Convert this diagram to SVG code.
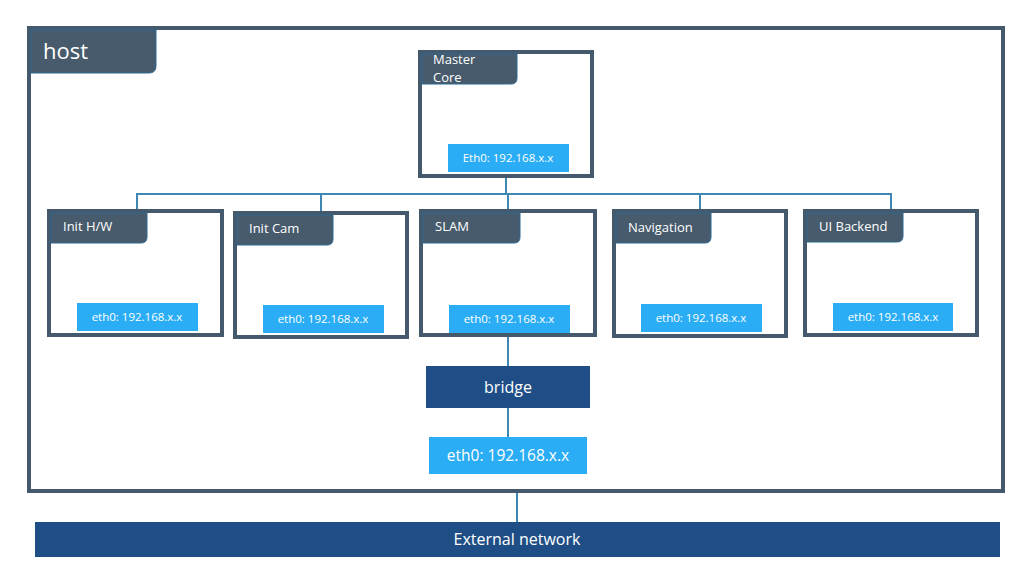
<svg xmlns="http://www.w3.org/2000/svg" width="1027" height="563" viewBox="0 0 1027 563">
<style>
.frame{fill:#fff;stroke:#44596b;stroke-width:4}
.tab{fill:#475b6c;stroke:#2e6a93;stroke-width:1}
.eth{fill:#2aadf5}
.dark{fill:#1f4e86}
.t{font-family:"Open Sans","Liberation Sans",sans-serif;fill:#fff}
.lbl{font-size:13px}
.ip{font-size:11.5px;text-anchor:middle}
.conn{fill:none;stroke:#3f88b6;stroke-width:2}
</style>
<rect width="1027" height="563" fill="#fff"/>
<g id="host">
<rect class="frame" x="29" y="28" width="974" height="463"/>
<path class="tab" d="M31 30H156V66Q156 73 149 73H31Z"/>
<text class="t" x="43" y="59" font-size="22">host</text>
</g>
<g id="connectors">
<path class="conn" d="M506 178V194"/>
<path class="conn" d="M137 209V194H891V209"/>
<path class="conn" d="M321 194V211"/>
<path class="conn" d="M508 194V209"/>
<path class="conn" d="M700 194V209"/>
<path class="conn" d="M508 337V366"/>
<path class="conn" d="M508 408V437"/>
<path class="conn" d="M517 493V522"/>
</g>
<g id="master-core">
<rect class="frame" x="420" y="52" width="172" height="124"/>
<path class="tab" d="M422 54H517V78Q517 84 511 84H422Z"/>
<text class="t lbl" x="433" y="64">Master</text>
<text class="t lbl" x="433" y="82">Core</text>
<rect class="eth" x="448" y="144" width="121" height="28"/>
<text class="t ip" x="508" y="162">Eth0: 192.168.x.x</text>
</g>
<g id="init-hw">
<rect class="frame" x="49" y="211" width="173" height="124"/>
<path class="tab" d="M51 213H147V237Q147 243 141 243H51Z"/>
<text class="t lbl" x="63" y="231">Init H/W</text>
<rect class="eth" x="77" y="303" width="121" height="28"/>
<text class="t ip" x="137" y="321">eth0: 192.168.x.x</text>
</g>
<g id="init-cam">
<rect class="frame" x="235" y="213" width="172" height="124"/>
<path class="tab" d="M237 215H333V239Q333 245 327 245H237Z"/>
<text class="t lbl" x="249" y="233">Init Cam</text>
<rect class="eth" x="263" y="305" width="121" height="28"/>
<text class="t ip" x="323" y="323">eth0: 192.168.x.x</text>
</g>
<g id="slam">
<rect class="frame" x="421" y="211" width="174" height="124"/>
<path class="tab" d="M423 213H520V237Q520 243 514 243H423Z"/>
<text class="t lbl" x="435" y="231">SLAM</text>
<rect class="eth" x="449" y="305" width="121" height="28"/>
<text class="t ip" x="509" y="323">eth0: 192.168.x.x</text>
</g>
<g id="navigation">
<rect class="frame" x="614" y="211" width="172" height="125"/>
<path class="tab" d="M616 213H711V237Q711 243 705 243H616Z"/>
<text class="t lbl" x="628" y="232">Navigation</text>
<rect class="eth" x="641" y="304" width="121" height="28"/>
<text class="t ip" x="701" y="322">eth0: 192.168.x.x</text>
</g>
<g id="ui-backend">
<rect class="frame" x="805" y="211" width="172" height="124"/>
<path class="tab" d="M807 213H903V236Q903 242 897 242H807Z"/>
<text class="t lbl" x="819" y="231">UI Backend</text>
<rect class="eth" x="833" y="303" width="120" height="28"/>
<text class="t ip" x="893" y="321">eth0: 192.168.x.x</text>
</g>
<g id="bridge">
<rect class="dark" x="426" y="366" width="164" height="42"/>
<text class="t" x="508" y="393" font-size="16" text-anchor="middle">bridge</text>
</g>
<g id="host-eth0">
<rect class="eth" x="429" y="437" width="158" height="37"/>
<text class="t" x="508" y="461" font-size="15.5" text-anchor="middle">eth0: 192.168.x.x</text>
</g>
<g id="external-network">
<rect class="dark" x="35" y="522" width="965" height="35"/>
<text class="t" x="517" y="545" font-size="16" text-anchor="middle">External network</text>
</g>
</svg>
